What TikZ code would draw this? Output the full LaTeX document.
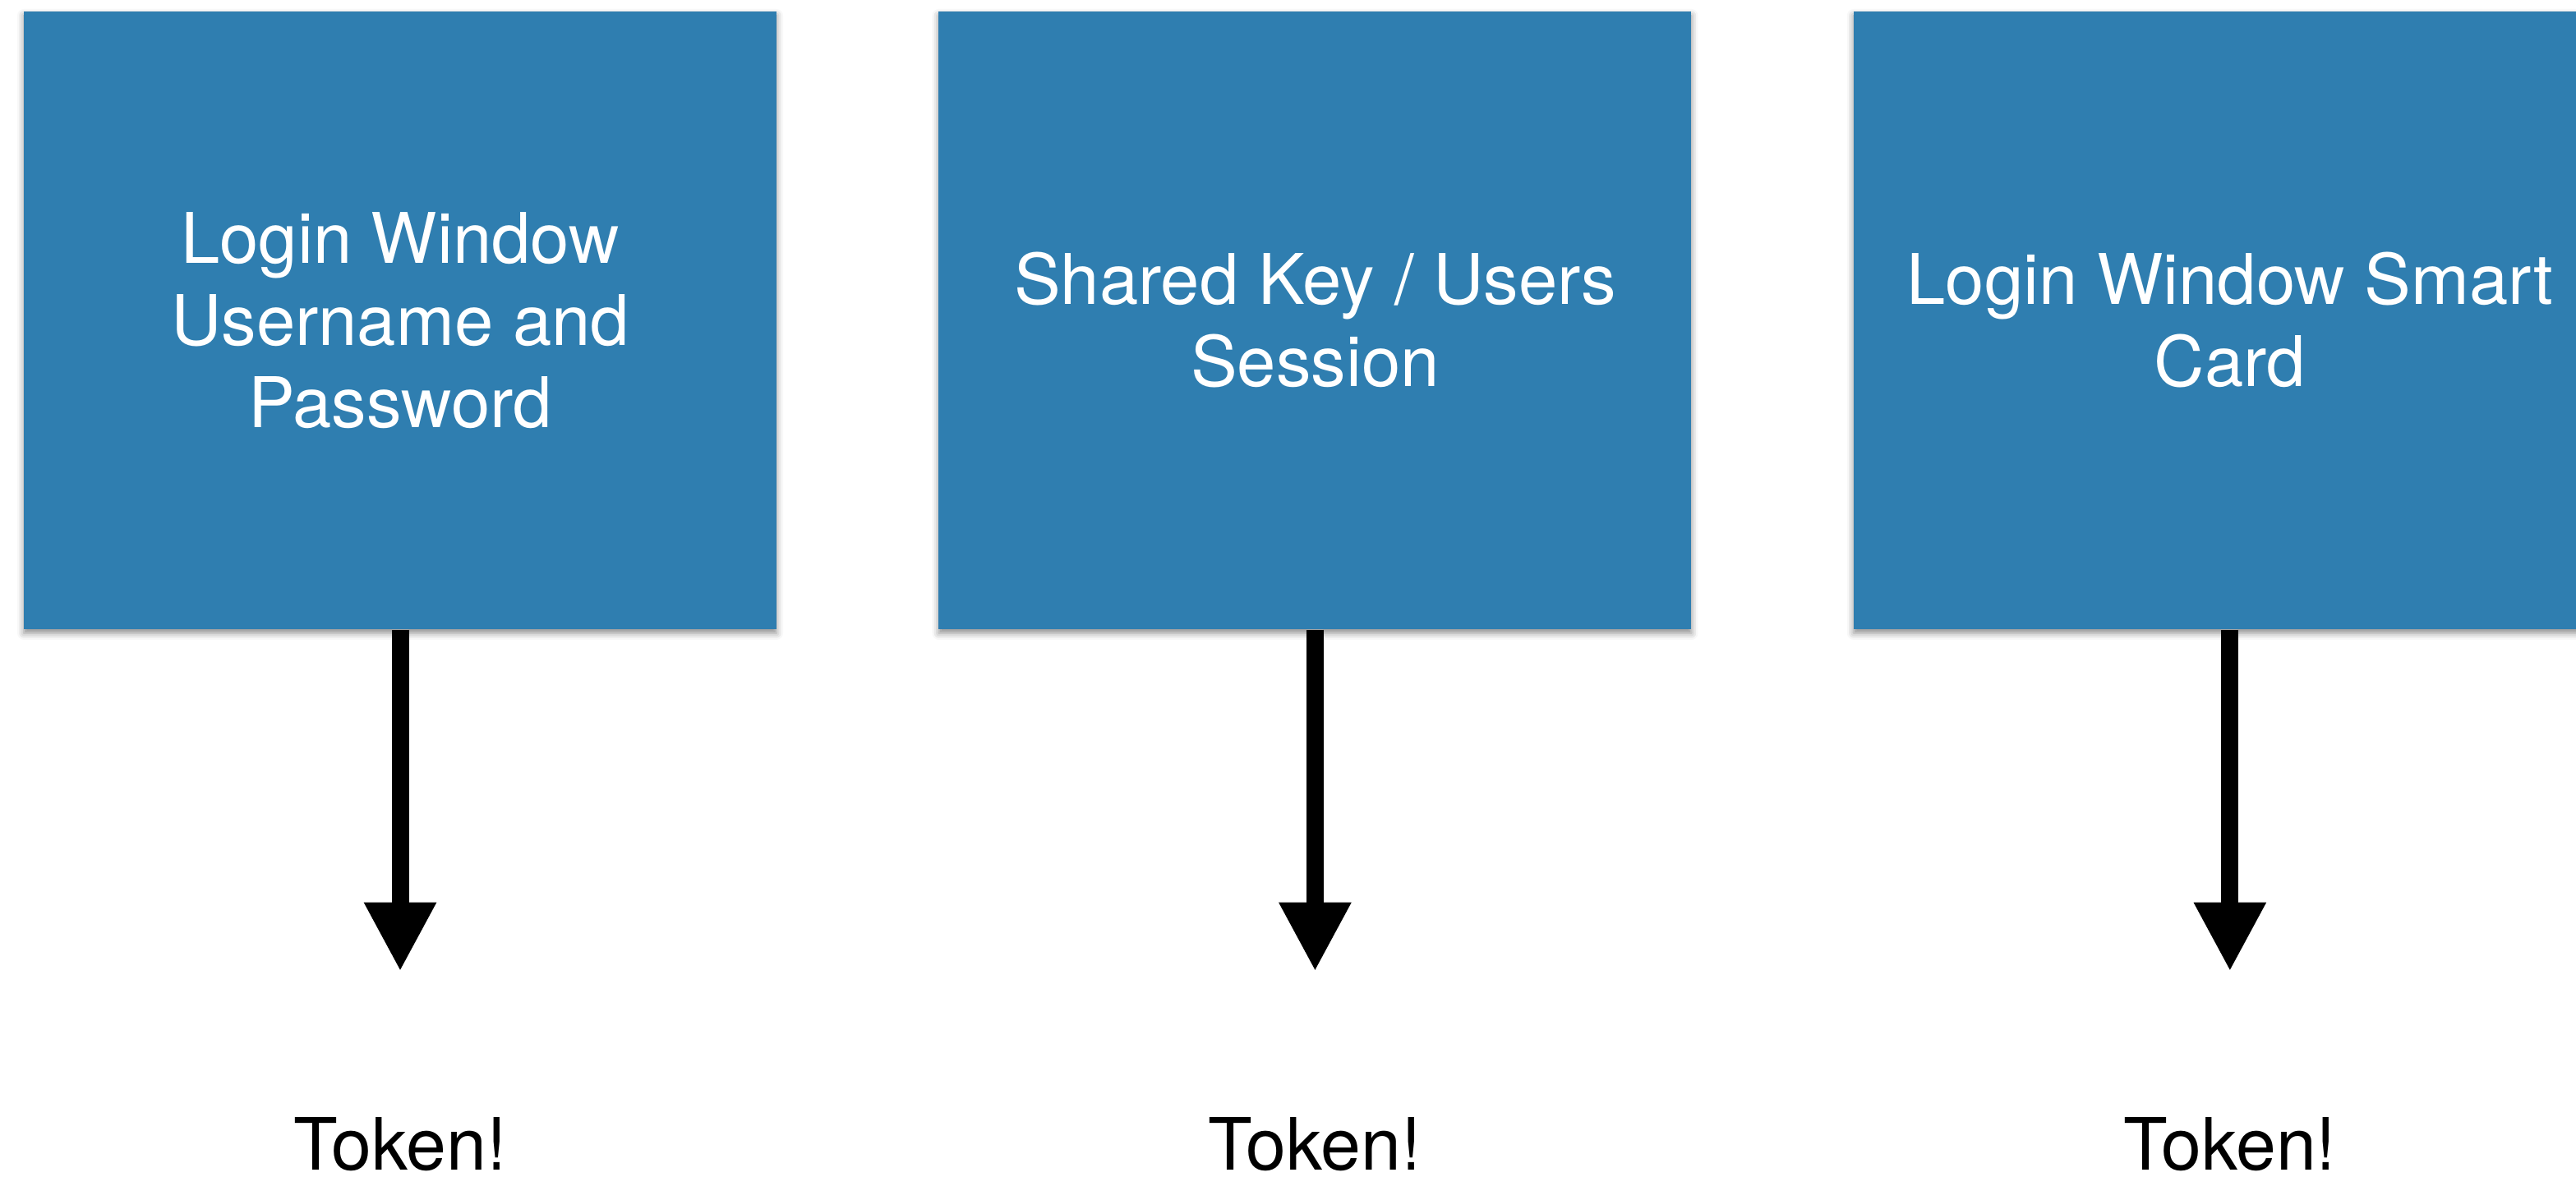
\documentclass[tikz,border=0pt]{standalone}
\usepackage{fontspec}
\setmainfont{TeX Gyre Heros}
\usepackage{xcolor}
\usepackage{tikz}
\usetikzlibrary{arrows.meta,positioning,shadows.blur}

\definecolor{cardblue}{RGB}{47,126,176}

\begin{document}
\begin{tikzpicture}[
    box/.style={rectangle, fill=cardblue, minimum width=9.16cm, minimum height=7.52cm, inner sep=0pt,
        align=center, text=white, font=\fontsize{24.2}{28.45}\selectfont,
        blur shadow={shadow xshift=0pt, shadow yshift=-0.05cm, shadow blur radius=0.08cm, shadow opacity=45}},
    token/.style={inner sep=0pt, text height=0.65cm, text depth=0pt, font=\fontsize{25}{30}\selectfont},
    arrow/.style={-{Triangle[width=0.82cm, length=0.84cm]}, line width=0.21cm, shorten >=1.76cm},
]
    \useasboundingbox (0,0) rectangle (31.35,14.33);
    \node[box] (B1) at (4.87,10.43) {Login Window\\Username and\\Password};
    \node[box, right=1.96cm of B1] (B2) {Shared Key / Users\\Session};
    \node[box, right=1.96cm of B2] (B3) {Login Window Smart\\Card};
    \node[token, below=5.92cm of B1] (T1) {Token!};
    \node[token, below=5.92cm of B2] (T2) {Token!};
    \node[token, below=5.92cm of B3] (T3) {Token!};
    \draw[arrow] (B1) -- (T1);
    \draw[arrow] (B2) -- (T2);
    \draw[arrow] (B3) -- (T3);
\end{tikzpicture}
\end{document}
